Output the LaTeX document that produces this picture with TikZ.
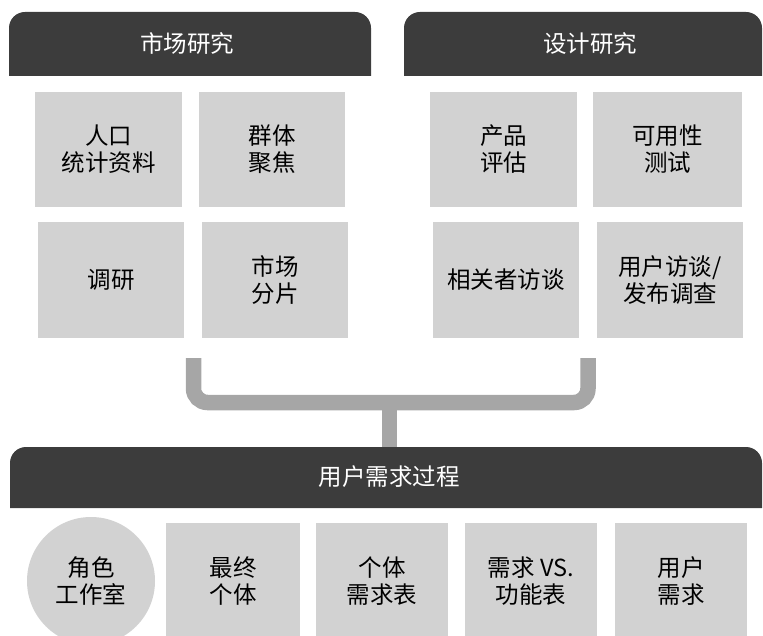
\documentclass[tikz,border=0pt]{standalone}
\usepackage{fontspec}
\newfontfamily\cjk{Noto Sans CJK SC}
\definecolor{barc}{HTML}{3C3C3C}
\definecolor{cellc}{HTML}{D2D2D2}
\definecolor{linkc}{HTML}{A6A6A6}
\begin{document}
\begin{tikzpicture}[x=1pt,y=-1pt,
  bar/.style={fill=barc},
  bartext/.style={text=white, inner sep=0pt, font=\cjk\fontsize{23.5}{27}\selectfont},
  cell/.style={fill=cellc, minimum width=146pt, minimum height=115pt, inner sep=0pt,
    align=center, text=black, font=\cjk\fontsize{23.5}{27}\selectfont},
  bcell/.style={cell, minimum width=133pt, minimum height=117pt},
  rcell/.style={fill=cellc, circle, minimum size=128pt, inner sep=0pt,
    align=center, text=black, font=\cjk\fontsize{23.5}{27}\selectfont},
  link/.style={draw=linkc, line width=15.5pt}
]
\useasboundingbox (0,0) rectangle (763,636);
\clip (0,0) rectangle (763,636);

% header bars
\fill[bar] (9,76) [rounded corners=16pt] -- (9,12) -- (371,12) [sharp corners] -- (371,76) -- cycle;
\fill[bar] (404,76) [rounded corners=16pt] -- (404,12) -- (762,12) [sharp corners] -- (762,76) -- cycle;
\fill[bar] (10,508) [rounded corners=16pt] -- (10,447) -- (762,447) [sharp corners] -- (762,508) -- cycle;
\node[bartext] (mr) at (187,44) {市场研究};
\node[bartext] (dr) at (590,44) {设计研究};
\node[bartext] (ur) at (389,477) {用户需求过程};

% market research cells
\node[cell, minimum width=147pt] (c1) at (108.5,149.5) {人口\\统计资料};
\node[cell] (c2) at (272,149.5) {群体\\聚焦};
\node[cell] (c3) at (111,280) {调研};
\node[cell] (c4) at (275,280) {市场\\分片};

% design research cells
\node[cell, minimum width=147pt] (d1) at (503.5,149.5) {产品\\评估};
\node[cell, minimum width=149pt] (d2) at (667.5,149.5) {可用性\\测试};
\node[cell] (d3) at (506,280) {相关者访谈};
\node[cell] (d4) at (670,280) {用户访谈/\\发布调查};

% connector
\coordinate (la) at (193.5,358);
\coordinate (ra) at (588,358);
\coordinate (jn) at (389.5,402.5);
\coordinate (ut) at (389.5,447);
\draw[link, rounded corners=14pt] (la) |- (jn) -| (ra);
\draw[link] (jn) -- (ut);

% user requirement cells
\node[rcell] (u1) at (91,581) {角色\\工作室};
\node[bcell, minimum width=134pt] (u2) at (233,581.5) {最终\\个体};
\node[bcell, minimum width=132pt] (u3) at (382,581.5) {个体\\需求表};
\node[bcell, minimum width=132pt] (u4) at (531,581.5) {需求 VS.\\功能表};
\node[bcell, minimum width=132pt] (u5) at (681,581.5) {用户\\需求};
\end{tikzpicture}
\end{document}
